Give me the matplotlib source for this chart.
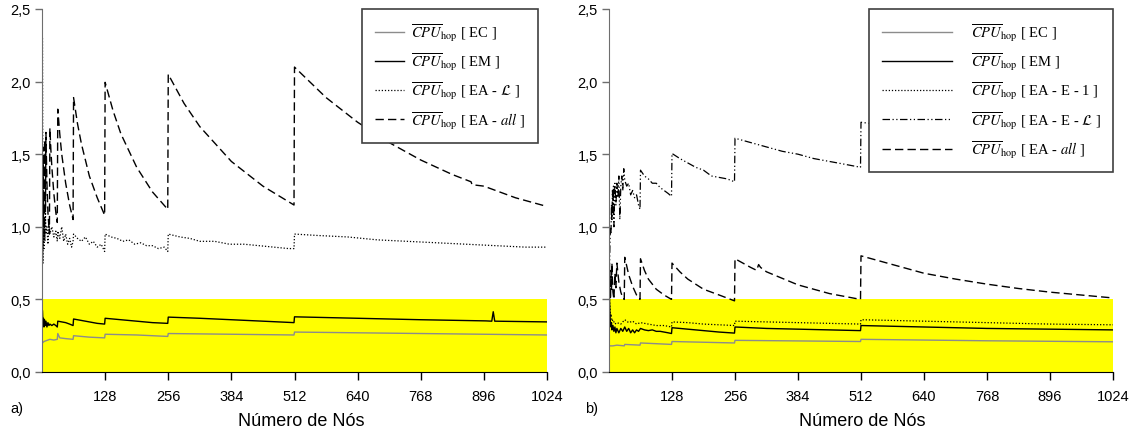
import matplotlib
matplotlib.use("Agg")
import matplotlib.pyplot as plt
from matplotlib.lines import Line2D

plt.rcParams["font.family"] = ["Liberation Sans", "DejaVu Sans"]
plt.rcParams["mathtext.fontset"] = "stix"

# ---- data ----
x_ticks = [128, 256, 384, 512, 640, 768, 896, 1024]
y_ticks = [0.0, 0.5, 1.0, 1.5, 2.0, 2.5]
y_tick_labels = ["0,0", "0,5", "1,0", "1,5", "2,0", "2,5"]

# panel a)
a_ec_x = [1, 4, 8, 12, 16, 24, 31, 32, 36, 48, 63, 64, 96, 127, 128, 192, 255, 256, 384, 511, 512, 768, 1024]
a_ec_y = [0.20, 0.21, 0.215, 0.22, 0.225, 0.22, 0.225, 0.265, 0.235, 0.23, 0.225, 0.25, 0.24, 0.235, 0.26, 0.255,
          0.245, 0.265, 0.26, 0.255, 0.275, 0.265, 0.255]

a_em_x = [1, 2, 3, 4, 5, 6, 8, 10, 12, 14, 16, 20, 24, 28, 31, 32, 40, 48, 56, 63, 64, 80, 96, 112, 127, 128,
          160, 192, 224, 255, 256, 320, 384, 448, 511, 512, 640, 768, 900, 912, 915, 918, 1024]
a_em_y = [0.42, 0.33, 0.37, 0.31, 0.36, 0.32, 0.35, 0.31, 0.34, 0.32, 0.33, 0.32, 0.33, 0.32, 0.31, 0.35, 0.345,
          0.34, 0.33, 0.32, 0.365, 0.355, 0.345, 0.335, 0.33, 0.37, 0.36, 0.35, 0.34, 0.335, 0.378, 0.37, 0.36,
          0.35, 0.34, 0.38, 0.37, 0.36, 0.352, 0.35, 0.415, 0.35, 0.345]

a_eal_x = [1, 2, 3, 4, 5, 6, 7, 8, 10, 12, 14, 16, 20, 24, 28, 31, 32, 36, 40, 44, 48, 52, 56, 60, 63, 64, 72,
           80, 88, 96, 104, 112, 120, 127, 128, 140, 152, 164, 176, 188, 200, 212, 224, 236, 248, 255, 256, 280,
           300, 320, 350, 380, 410, 440, 470, 500, 511, 512, 560, 620, 680, 740, 800, 860, 920, 980, 1024]
a_eal_y = [2.3, 0.75, 1.2, 0.85, 1.05, 0.9, 1.1, 0.95, 1.0, 0.88, 1.02, 0.95, 1.0, 0.93, 0.97, 0.9, 0.97, 0.92,
           1.0, 0.9, 0.95, 0.88, 0.92, 0.86, 0.9, 0.95, 0.92, 0.9, 0.93, 0.88, 0.9, 0.86, 0.88, 0.83, 0.95, 0.93,
           0.92, 0.9, 0.91, 0.88, 0.89, 0.87, 0.87, 0.85, 0.86, 0.83, 0.95, 0.93, 0.92, 0.9, 0.9, 0.88, 0.88,
           0.87, 0.86, 0.85, 0.85, 0.95, 0.94, 0.93, 0.91, 0.9, 0.89, 0.88, 0.87, 0.86, 0.86]

a_all_x = [1, 2, 3, 4, 5, 6, 7, 8, 10, 12, 15, 16, 18, 20, 24, 28, 31, 32, 36, 40, 48, 56, 63, 64, 72, 80, 96,
           112, 127, 128, 144, 160, 192, 224, 255, 256, 288, 320, 384, 448, 511, 512, 576, 640, 704, 768, 832,
           870, 872, 896, 960, 1024]
a_all_y = [1.3, 1.45, 1.0, 1.55, 0.95, 1.6, 1.1, 1.65, 1.3, 1.1, 0.95, 1.68, 1.53, 1.41, 1.23, 1.10, 1.03, 1.81,
           1.64, 1.50, 1.30, 1.15, 1.05, 1.89, 1.71, 1.57, 1.35, 1.20, 1.08, 1.995, 1.80, 1.64, 1.41, 1.24, 1.12,
           2.05, 1.85, 1.69, 1.45, 1.28, 1.15, 2.10, 1.89, 1.72, 1.58, 1.46, 1.36, 1.31, 1.29, 1.28, 1.20, 1.14]

# panel b)
b_ec_x = [1, 8, 16, 31, 32, 63, 64, 127, 128, 255, 256, 511, 512, 768, 1024]
b_ec_y = [0.18, 0.18, 0.185, 0.18, 0.19, 0.185, 0.20, 0.19, 0.21, 0.20, 0.218, 0.21, 0.225, 0.215, 0.208]

b_em_x = [1, 2, 3, 4, 5, 6, 8, 10, 12, 14, 16, 20, 24, 28, 32, 36, 40, 44, 48, 52, 56, 60, 64, 72, 80, 88, 96,
          104, 112, 120, 127, 128, 160, 192, 224, 255, 256, 320, 384, 448, 511, 512, 640, 768, 896, 1024]
b_em_y = [0.5, 0.4, 0.33, 0.31, 0.34, 0.29, 0.32, 0.28, 0.31, 0.27, 0.30, 0.27, 0.30, 0.28, 0.31, 0.28, 0.30,
          0.27, 0.29, 0.27, 0.29, 0.28, 0.30, 0.29, 0.285, 0.29, 0.28, 0.28, 0.275, 0.27, 0.265, 0.305, 0.295,
          0.285, 0.275, 0.268, 0.31, 0.30, 0.295, 0.29, 0.285, 0.32, 0.31, 0.30, 0.295, 0.29]

b_ee1_x = [1, 2, 3, 4, 6, 8, 12, 16, 24, 32, 40, 48, 56, 64, 80, 96, 112, 127, 128, 160, 192, 224, 255, 256,
           320, 384, 448, 511, 512, 640, 768, 896, 1024]
b_ee1_y = [0.5, 0.45, 0.38, 0.40, 0.35, 0.36, 0.33, 0.34, 0.33, 0.36, 0.34, 0.35, 0.33, 0.34, 0.33, 0.32, 0.32,
           0.31, 0.345, 0.34, 0.33, 0.325, 0.32, 0.35, 0.345, 0.34, 0.335, 0.33, 0.36, 0.35, 0.34, 0.33, 0.325]

b_eel_x = [1, 2, 3, 4, 5, 6, 7, 8, 9, 10, 11, 12, 14, 16, 18, 20, 22, 24, 26, 28, 30, 32, 36, 40, 44, 48, 52,
           56, 60, 63, 64, 72, 80, 88, 96, 104, 112, 120, 127, 128, 144, 160, 176, 192, 208, 224, 240, 255, 256,
           288, 320, 352, 384, 416, 448, 480, 511, 512, 600, 700, 800, 900, 1024]
b_eel_y = [0.70, 0.90, 1.00, 0.95, 1.15, 1.05, 1.25, 1.10, 1.28, 1.00, 1.20, 1.30, 1.15, 1.30, 1.20, 1.35, 1.05,
           1.28, 1.35, 1.25, 1.40, 1.32, 1.28, 1.30, 1.22, 1.25, 1.20, 1.22, 1.15, 1.12, 1.39, 1.35, 1.33, 1.30,
           1.30, 1.27, 1.25, 1.23, 1.21, 1.505, 1.47, 1.44, 1.41, 1.39, 1.35, 1.34, 1.33, 1.31, 1.61, 1.58, 1.55,
           1.52, 1.50, 1.47, 1.45, 1.43, 1.41, 1.72, 1.68, 1.63, 1.60, 1.56, 1.53]

b_all_x = [1, 2, 3, 4, 5, 6, 7, 8, 10, 12, 14, 16, 20, 24, 28, 31, 32, 40, 48, 56, 63, 64, 72, 80, 96, 112, 127,
           128, 144, 160, 192, 224, 255, 256, 288, 300, 304, 308, 320, 384, 448, 511, 512, 576, 640, 704, 768,
           832, 896, 960, 1024]
b_all_y = [0.50, 0.62, 0.50, 0.70, 0.56, 0.75, 0.62, 0.55, 0.50, 0.68, 0.58, 0.75, 0.62, 0.55, 0.51, 0.50, 0.79,
           0.67, 0.59, 0.53, 0.50, 0.78, 0.70, 0.64, 0.57, 0.53, 0.50, 0.75, 0.69, 0.64, 0.57, 0.53, 0.49, 0.78,
           0.72, 0.70, 0.74, 0.72, 0.69, 0.60, 0.54, 0.50, 0.80, 0.74, 0.68, 0.64, 0.605, 0.575, 0.55, 0.53, 0.51]

# ---- styles ----
GRAY = "#8c8c8c"
DOT = (0, (1, 1.5))
DASH = (0, (6, 3))
DASHDOTDOT = (0, (6, 2, 1, 2, 1, 2))


def cpu(tag):
    return r"$\overline{CPU}_{\mathrm{hop}}$" + " [ " + tag + " ]"


def style_axes(ax):
    ax.axhspan(0, 0.5, color="#ffff00", zorder=0, lw=0)
    ax.set_xlim(0, 1024)
    ax.set_ylim(0, 2.5)
    ax.set_xticks(x_ticks)
    ax.set_xticklabels([str(t) for t in x_ticks])
    ax.set_yticks(y_ticks)
    ax.set_yticklabels(y_tick_labels)
    ax.spines["top"].set_visible(False)
    ax.spines["right"].set_visible(False)
    ax.spines["left"].set_color("#6e6e6e")
    ax.spines["bottom"].set_color("#000000")
    ax.tick_params(axis="both", direction="out", labelsize=10.5, width=1, length=5)
    ax.tick_params(axis="y", colors="#6e6e6e", labelcolor="#000000", pad=3)
    ax.tick_params(axis="x", length=6, pad=6)


def add_legend(ax, handles, labels, right_px, hlen, hpad):
    leg = ax.legend(handles, labels, loc="upper right", bbox_to_anchor=(right_px / 1136, 1 - 10 / 435),
                    bbox_transform=fig.transFigure, borderaxespad=0, fancybox=False,
                    edgecolor="#404040", framealpha=1, handlelength=hlen, handletextpad=hpad,
                    labelspacing=0.52, borderpad=0.85,
                    prop={"family": "Liberation Serif", "size": 10.5})
    leg.get_frame().set_linewidth(1.2)
    return leg


fig = plt.figure(figsize=(11.36, 4.35), dpi=100)
ax1 = fig.add_axes([42 / 1136, 62 / 435, 505 / 1136, 363 / 435])
ax2 = fig.add_axes([609 / 1136, 62 / 435, 504 / 1136, 363 / 435])

# panel a
ax1.plot(a_ec_x, a_ec_y, color=GRAY, lw=1.0)
ax1.plot(a_em_x, a_em_y, color="black", lw=1.0)
ax1.plot(a_eal_x, a_eal_y, color="black", lw=0.9, ls=DOT)
ax1.plot(a_all_x, a_all_y, color="black", lw=1.0, ls=DASH)
style_axes(ax1)

h1 = [Line2D([], [], color=GRAY, lw=1.0),
      Line2D([], [], color="black", lw=1.0),
      Line2D([], [], color="black", lw=0.9, ls=DOT),
      Line2D([], [], color="black", lw=1.0, ls=DASH)]
l1 = [cpu("EC"), cpu("EM"), cpu(r"EA - $\mathcal{L}$"), cpu(r"EA - $\mathit{all}$")]
add_legend(ax1, h1, l1, 538, 2.0, 0.5)

# panel b
ax2.plot(b_ec_x, b_ec_y, color=GRAY, lw=1.0)
ax2.plot(b_em_x, b_em_y, color="black", lw=1.0)
ax2.plot(b_ee1_x, b_ee1_y, color="black", lw=0.9, ls=DOT)
ax2.plot(b_eel_x, b_eel_y, color="black", lw=0.9, ls=DASHDOTDOT)
ax2.plot(b_all_x, b_all_y, color="black", lw=1.0, ls=DASH)
style_axes(ax2)

h2 = [Line2D([], [], color=GRAY, lw=1.0),
      Line2D([], [], color="black", lw=1.0),
      Line2D([], [], color="black", lw=0.9, ls=DOT),
      Line2D([], [], color="black", lw=0.9, ls=DASHDOTDOT),
      Line2D([], [], color="black", lw=1.0, ls=DASH)]
l2 = [cpu("EC"), cpu("EM"), cpu("EA - E - 1"), cpu(r"EA - E - $\mathcal{L}$"), cpu(r"EA - $\mathit{all}$")]
add_legend(ax2, h2, l2, 1113, 4.8, 1.3)

for ax, cx in ((ax1, (301 - 42) / 505), (ax2, (862 - 609) / 504)):
    ax.set_xlabel("Número de Nós", fontsize=13)
    ax.xaxis.set_label_coords(cx, -0.11)

fig.text(10 / 1136, 1 - 409 / 435, "a)", fontsize=10.5, va="center", ha="left")
fig.text(585 / 1136, 1 - 409 / 435, "b)", fontsize=10.5, va="center", ha="left")

fig.savefig("out.png", dpi=100)
